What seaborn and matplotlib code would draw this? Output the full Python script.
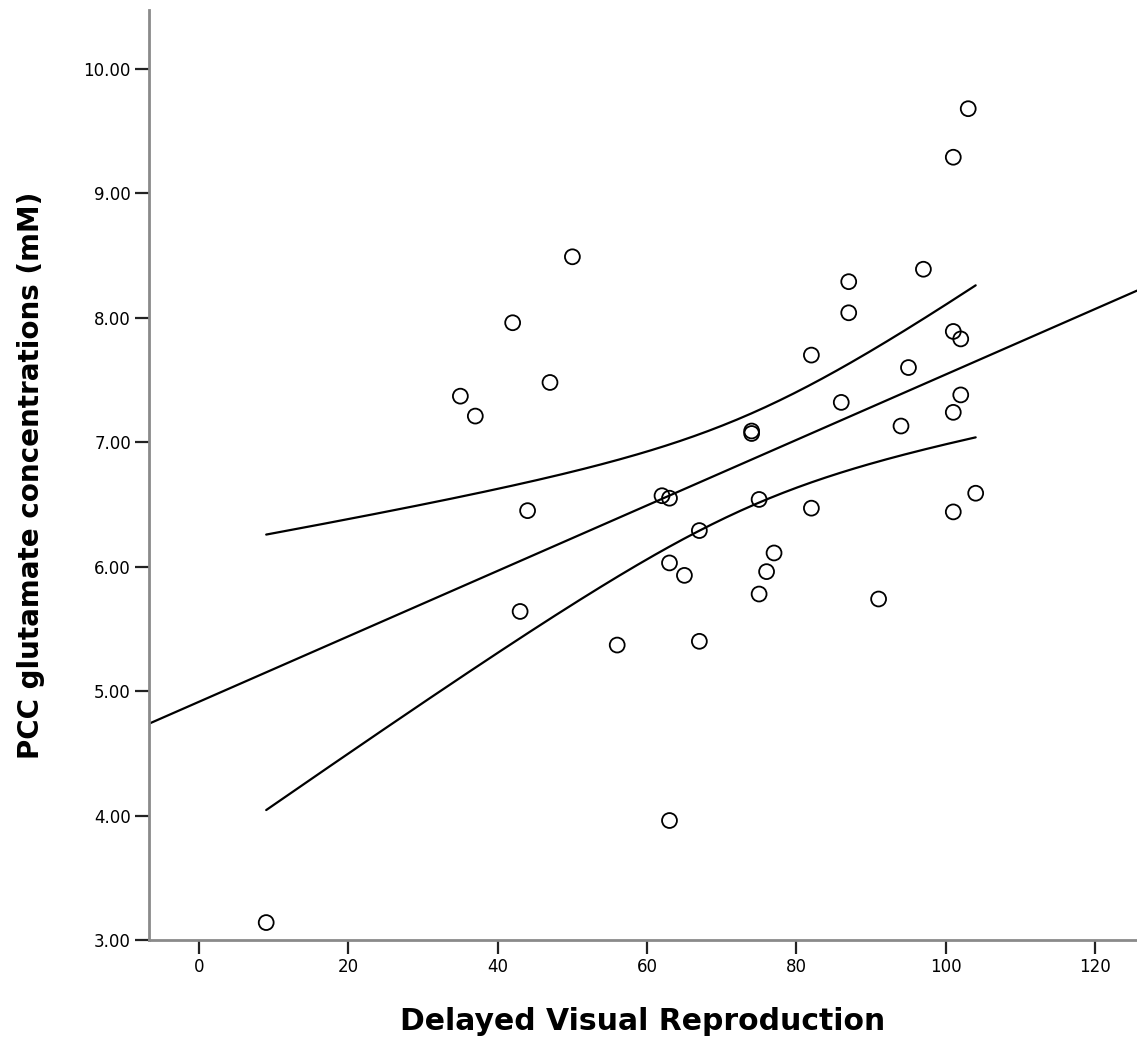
import numpy as np
import pandas as pd
import seaborn as sns
import matplotlib
matplotlib.use("Agg")
import matplotlib.pyplot as plt
from matplotlib.ticker import FuncFormatter

# Delayed visual reproduction score vs PCC glutamate concentration (mM)
dvr = [9, 35, 37, 42, 47, 50, 44, 43, 56, 67, 63, 65, 67, 62, 63, 74, 74,
       75, 77, 76, 75, 63, 87, 87, 97, 82, 101, 102, 95, 86, 102, 101, 94,
       82, 101, 104, 91, 103, 101]
glu = [3.14, 7.37, 7.21, 7.96, 7.48, 8.49, 6.45, 5.64, 5.37, 5.40, 6.03,
       5.93, 6.29, 6.57, 6.55, 7.09, 7.07, 6.54, 6.11, 5.96, 5.78, 3.96,
       8.29, 8.04, 8.39, 7.70, 7.89, 7.83, 7.60, 7.32, 7.38, 7.24, 7.13,
       6.47, 6.44, 6.59, 5.74, 9.68, 9.29]

x_ticks = [0, 20, 40, 60, 80, 100, 120]
y_ticks = [3, 4, 5, 6, 7, 8, 9, 10]
x_label = "Delayed Visual Reproduction"
y_label = "PCC glutamate concentrations (mM)"

df = pd.DataFrame({"dvr": dvr, "glu": glu})

sns.set_theme(style="white")
plt.rcParams["font.family"] = ["DejaVu Sans"]

fig = plt.figure(figsize=(11.37, 10.39), dpi=100)
ax = fig.add_axes([0.131, 0.0953, 0.869, 0.8947])

xlim = (-6.7, 125.6)
ylim = (3.0, 10.47)

# Least squares fit and 95% confidence band for the mean
x = np.asarray(dvr, float)
y = np.asarray(glu, float)
n = len(x)
slope, intercept = np.polyfit(x, y, 1)
resid = y - (intercept + slope * x)
s = np.sqrt(np.sum(resid ** 2) / (n - 2))
sxx = np.sum((x - x.mean()) ** 2)
t_crit = 2.026  # t(0.975, df=37)

fit_x = np.linspace(xlim[0], xlim[1], 200)
band_x = np.linspace(x.min(), x.max(), 200)
band_fit = intercept + slope * band_x
half = t_crit * s * np.sqrt(1.0 / n + (band_x - x.mean()) ** 2 / sxx)

line_kw = dict(color="black", linewidth=1.6, ax=ax, legend=False)
sns.lineplot(x=fit_x, y=intercept + slope * fit_x, **line_kw)
sns.lineplot(x=band_x, y=band_fit + half, **line_kw)
sns.lineplot(x=band_x, y=band_fit - half, **line_kw)

sns.scatterplot(data=df, x="dvr", y="glu", ax=ax, s=115,
                facecolor="none", edgecolor="black", linewidth=1.3,
                zorder=3, clip_on=False)

ax.set_xlim(*xlim)
ax.set_ylim(*ylim)
ax.set_xticks(x_ticks)
ax.set_yticks(y_ticks)
ax.yaxis.set_major_formatter(FuncFormatter(lambda v, p: f"{v:.2f}"))

for side in ("top", "right"):
    ax.spines[side].set_visible(False)
for side in ("left", "bottom"):
    ax.spines[side].set_color("#8a8a8a")
    ax.spines[side].set_linewidth(2.0)

ax.tick_params(axis="both", which="major", direction="out", length=10,
               width=1.6, color="#222222", labelsize=12, labelcolor="black",
               bottom=True, left=True, pad=3)

ax.set_xlabel(x_label, fontsize=21.5, fontweight="bold", color="black",
              labelpad=22)
ax.set_ylabel(y_label, fontsize=20, fontweight="bold", color="black",
              labelpad=28)

fig.savefig("out.png", dpi=100)
